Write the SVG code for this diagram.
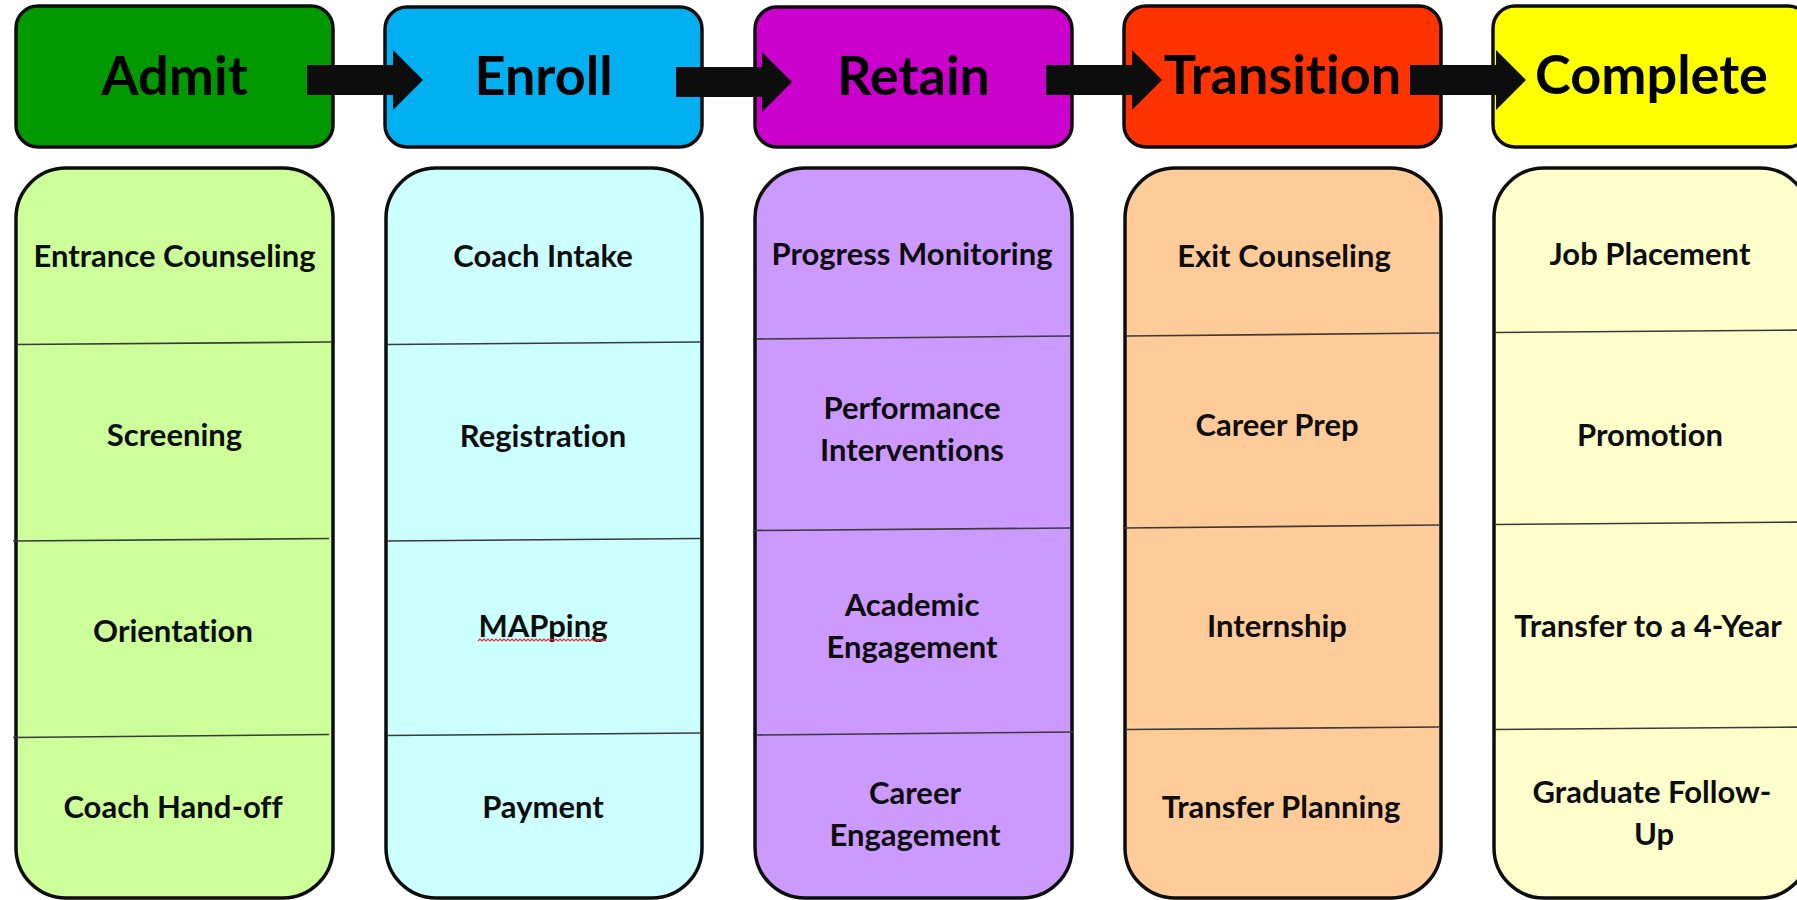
<svg xmlns="http://www.w3.org/2000/svg" xmlns:xlink="http://www.w3.org/1999/xlink" width="1797" height="900" viewBox="0 0 1797 900">
<style>
.hdr{stroke:#0d0d0d;stroke-width:3.5}
.pnl{stroke:#0d0d0d;stroke-width:3.5}
.ht{font-family:Lato,"Liberation Sans",sans-serif;font-weight:bold;font-size:54px;fill:#000;text-anchor:middle;font-variant-ligatures:none}
.pt{font-family:Lato,"Liberation Sans",sans-serif;font-weight:bold;font-size:31px;fill:#0d0d0d;text-anchor:middle;font-variant-ligatures:none}
.div{stroke:#3a3a3a;stroke-width:1.6;fill:none}
.arr{fill:#0d0d0d}
.sq{stroke:#e23030;stroke-width:1.2;fill:none}
</style>
<defs>
<path id="blockArrow" class="arr" d="M0,-15 L86,-15 L86,-30 L116,0 L86,30 L86,15 L0,15 Z"/>
</defs>
<rect width="1797" height="900" fill="#ffffff"/>

<g id="header-admit">
<rect class="hdr" x="16" y="6" width="317" height="141" rx="22" fill="#009900"/>
<text class="ht" x="174.5" y="95">Admit</text>
</g>
<g id="header-enroll">
<rect class="hdr" x="385" y="7" width="317" height="140" rx="22" fill="#00b0f0"/>
<text class="ht" x="543.5" y="95">Enroll</text>
</g>
<g id="header-retain">
<rect class="hdr" x="755" y="7" width="317" height="140" rx="22" fill="#cc00cc"/>
<text class="ht" x="913.5" y="95">Retain</text>
</g>
<g id="header-transition">
<rect class="hdr" x="1124" y="6" width="317" height="141" rx="22" fill="#ff3300"/>
<text class="ht" x="1282.5" y="94">Transition</text>
</g>
<g id="header-complete">
<rect class="hdr" x="1493" y="6" width="317" height="141" rx="22" fill="#ffff00"/>
<text class="ht" x="1651.5" y="94">Complete</text>
</g>

<g id="panel-admit">
<rect class="pnl" x="16" y="168" width="317" height="730" rx="50" fill="#ccff99"/>
<path class="div" d="M17,344.5 L331,342"/>
<path class="div" d="M13,541 L329,538.5"/>
<path class="div" d="M13,737.5 L329,734.5"/>
<text class="pt" x="174.5" y="267">Entrance Counseling</text>
<text class="pt" x="174.5" y="446">Screening</text>
<text class="pt" x="173" y="642">Orientation</text>
<text class="pt" x="173" y="818">Coach Hand-off</text>
</g>

<g id="panel-enroll">
<rect class="pnl" x="386" y="168" width="316" height="730" rx="50" fill="#ccffff"/>
<path class="div" d="M387,344.5 L700,342"/>
<path class="div" d="M387,541 L700,538.5"/>
<path class="div" d="M387,735.5 L700,733"/>
<text class="pt" x="543" y="267">Coach Intake</text>
<text class="pt" x="543" y="447">Registration</text>
<text class="pt" x="543" y="637">MAPping</text>
<path class="sq" d="M478,641 l2,-2 l2,2 l2,-2 l2,2 l2,-2 l2,2 l2,-2 l2,2 l2,-2 l2,2 l2,-2 l2,2 l2,-2 l2,2 l2,-2 l2,2 l2,-2 l2,2 l2,-2 l2,2 l2,-2 l2,2 l2,-2 l2,2 l2,-2 l2,2 l2,-2 l2,2 l2,-2 l2,2 l2,-2 l2,2 l2,-2 l2,2 l2,-2 l2,2 l2,-2 l2,2 l2,-2 l2,2 l2,-2 l2,2 l2,-2 l2,2 l2,-2 l2,2 l2,-2 l2,2 l2,-2 l2,2 l2,-2 l2,2 l2,-2 l2,2 l2,-2 l2,2 l2,-2 l2,2 l2,-2 l2,2 l2,-2 l2,2 l2,-2 l2,2"/>
<text class="pt" x="543" y="818">Payment</text>
</g>

<g id="panel-retain">
<rect class="pnl" x="755" y="168" width="317" height="730" rx="50" fill="#cc99ff"/>
<path class="div" d="M756,339 L1070,336"/>
<path class="div" d="M753,530.5 L1070,528"/>
<path class="div" d="M756,735 L1074,732"/>
<text class="pt" x="912" y="265">Progress Monitoring</text>
<text class="pt" x="912" y="419">Performance</text>
<text class="pt" x="912" y="461">Interventions</text>
<text class="pt" x="912" y="616">Academic</text>
<text class="pt" x="912" y="658">Engagement</text>
<text class="pt" x="915" y="804">Career</text>
<text class="pt" x="915" y="846">Engagement</text>
</g>

<g id="panel-transition">
<rect class="pnl" x="1125" y="168" width="316" height="730" rx="50" fill="#ffcc99"/>
<path class="div" d="M1126,336 L1439,333"/>
<path class="div" d="M1123,528 L1439,525"/>
<path class="div" d="M1126,729.5 L1439,727"/>
<text class="pt" x="1284" y="267">Exit Counseling</text>
<text class="pt" x="1277" y="436">Career Prep</text>
<text class="pt" x="1277" y="637">Internship</text>
<text class="pt" x="1281" y="818">Transfer Planning</text>
</g>

<g id="panel-complete">
<rect class="pnl" x="1494" y="168" width="316" height="730" rx="50" fill="#ffffcc"/>
<path class="div" d="M1495,332.5 L1810,330"/>
<path class="div" d="M1495,524.5 L1810,522"/>
<path class="div" d="M1495,729.5 L1810,727"/>
<text class="pt" x="1650" y="265">Job Placement</text>
<text class="pt" x="1650" y="446">Promotion</text>
<text class="pt" x="1648" y="637">Transfer to a 4-Year</text>
<text class="pt" x="1652" y="803">Graduate Follow-</text>
<text class="pt" x="1654" y="845">Up</text>
</g>

<g id="connectors">
<use xlink:href="#blockArrow" href="#blockArrow" x="307" y="80"/>
<use xlink:href="#blockArrow" href="#blockArrow" x="676" y="82"/>
<use xlink:href="#blockArrow" href="#blockArrow" x="1046" y="80"/>
<use xlink:href="#blockArrow" href="#blockArrow" x="1410" y="80"/>
</g>
</svg>
